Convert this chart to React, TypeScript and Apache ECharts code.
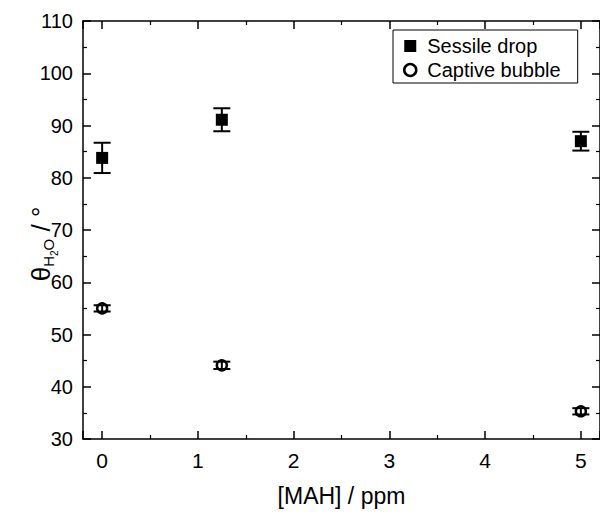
import React, { useEffect, useRef } from 'react';
import * as echarts from 'echarts';

const xValues = [0, 1.25, 5];
const sessileDrop = [83.8, 91.1, 87.0];
const sessileErr = [2.9, 2.2, 1.8];
const captiveBubble = [55.0, 44.1, 35.3];
const captiveErr = [0.6, 0.7, 0.6];
const seriesNames = ['Sessile drop', 'Captive bubble'];
const xTitle = '[MAH] / ppm';
const yTitle = '{t|θ}{s|H}{ss|2}{s|O}{t| / °}{gap| }';

const FONT = '"Liberation Sans", Arial, Helvetica, sans-serif';

export default function App() {
  const ref = useRef<HTMLDivElement>(null);
  useEffect(() => {
    const chart = echarts.init(ref.current!, null, { renderer: 'svg' });

    const errData = (vals: number[], errs: number[]) =>
      xValues.map((x, i) => [x, vals[i] - errs[i], vals[i] + errs[i]]);

    const errRender = (params: any, api: any) => {
      const x = api.value(0);
      const lo = api.coord([x, api.value(1)]);
      const hi = api.coord([x, api.value(2)]);
      const hw = 8.5;
      const st = { stroke: '#000', lineWidth: 2 };
      return {
        type: 'group',
        children: [
          { type: 'line', shape: { x1: lo[0], y1: lo[1], x2: hi[0], y2: hi[1] }, style: st },
          { type: 'line', shape: { x1: lo[0] - hw, y1: lo[1], x2: lo[0] + hw, y2: lo[1] }, style: st },
          { type: 'line', shape: { x1: hi[0] - hw, y1: hi[1], x2: hi[0] + hw, y2: hi[1] }, style: st },
        ],
      };
    };

    const lineStyle = { color: '#000', width: 1.5 };
    const xCommon = {
      type: 'value',
      min: -0.2,
      max: 5.2,
      minInterval: 1,
      maxInterval: 1,
      splitLine: { show: false },
      axisLine: { show: true, onZero: false, lineStyle },
      axisTick: { show: true, inside: true, length: 8, lineStyle },
      minorTick: { show: true, splitNumber: 2, length: 4, lineStyle: { color: '#000', width: 1.2 } },
      minorSplitLine: { show: false },
    };
    const yCommon = {
      type: 'value',
      min: 30,
      max: 110,
      interval: 10,
      splitLine: { show: false },
      axisLine: { show: true, onZero: false, lineStyle },
      axisTick: { show: true, inside: true, length: 8, lineStyle },
      minorTick: { show: true, splitNumber: 2, length: 4, lineStyle: { color: '#000', width: 1.2 } },
      minorSplitLine: { show: false },
    };

    chart.setOption({
      animation: false,
      backgroundColor: '#fff',
      textStyle: { fontFamily: FONT, color: '#000' },
      grid: { left: 83, top: 21, width: 520, height: 421 },
      legend: {
        orient: 'vertical',
        left: 393,
        top: 30,
        padding: [6, 17, 3, 10],
        itemGap: 4,
        itemWidth: 12,
        itemHeight: 12,
        borderColor: '#000',
        borderWidth: 1,
        borderRadius: 0,
        textStyle: { fontFamily: FONT, fontSize: 20, color: '#000', lineHeight: 20, padding: [0, 0, 0, 6] },
        data: [
          { name: seriesNames[0], icon: 'rect', itemStyle: { color: '#000', borderWidth: 0, opacity: 1 } },
          { name: seriesNames[1], icon: 'circle', itemStyle: { color: '#fff', borderColor: '#000', borderWidth: 2.5, opacity: 1 } },
        ],
      },
      xAxis: [
        {
          ...xCommon,
          position: 'bottom',
          name: xTitle,
          nameLocation: 'middle',
          nameGap: 45,
          nameMoveOverlap: false,
          nameTextStyle: { fontFamily: FONT, fontSize: 23, color: '#000' },
          axisLabel: { show: true, fontFamily: FONT, fontSize: 21, color: '#000', margin: 11, showMinLabel: false, showMaxLabel: false },
        },
        {
          ...xCommon,
          position: 'top',
          axisLabel: { show: false },
        },
      ],
      yAxis: [
        {
          ...yCommon,
          position: 'left',
          name: yTitle,
          nameLocation: 'middle',
          nameRotate: 90,
          nameGap: 24,
          nameMoveOverlap: false,
          nameTextStyle: {
            fontFamily: FONT,
            color: '#000',
            rich: {
              t: { fontFamily: FONT, fontSize: 26, color: '#000', verticalAlign: 'bottom', padding: [0, 0, 5, 0] },
              s: { fontFamily: FONT, fontSize: 15, color: '#000', verticalAlign: 'bottom', padding: [0, 0, 3, 0] },
              ss: { fontFamily: FONT, fontSize: 10, color: '#000', verticalAlign: 'bottom', padding: [0, 0, 0, 0] },
              gap: { fontFamily: FONT, fontSize: 10, width: 28 },
            },
          },
          axisLabel: { show: true, fontFamily: FONT, fontSize: 20, color: '#000', margin: 10 },
        },
        {
          ...yCommon,
          position: 'right',
          axisLabel: { show: false },
        },
      ],
      series: [
        {
          name: 'sdErr',
          type: 'custom',
          xAxisIndex: 0,
          yAxisIndex: 0,
          renderItem: errRender,
          encode: { x: 0, y: [1, 2] },
          data: errData(sessileDrop, sessileErr),
          z: 2,
          silent: true,
        },
        {
          name: seriesNames[0],
          type: 'scatter',
          symbol: 'rect',
          symbolSize: 12,
          itemStyle: { color: '#000', opacity: 1 },
          data: xValues.map((x, i) => [x, sessileDrop[i]]),
          z: 3,
        },
        {
          name: seriesNames[1],
          type: 'scatter',
          symbol: 'circle',
          symbolSize: 10,
          itemStyle: { color: '#fff', borderColor: '#000', borderWidth: 2.5, opacity: 1 },
          data: xValues.map((x, i) => [x, captiveBubble[i]]),
          z: 3,
        },
        {
          name: 'cbErr',
          type: 'custom',
          xAxisIndex: 0,
          yAxisIndex: 0,
          renderItem: errRender,
          encode: { x: 0, y: [1, 2] },
          data: errData(captiveBubble, captiveErr),
          z: 4,
          silent: true,
        },
      ],
    });
    return () => chart.dispose();
  }, []);
  return (
    <div
      ref={ref}
      style={{ position: 'fixed', left: 0, top: 0, width: 600, height: 512, background: '#fff' }}
    />
  );
}
